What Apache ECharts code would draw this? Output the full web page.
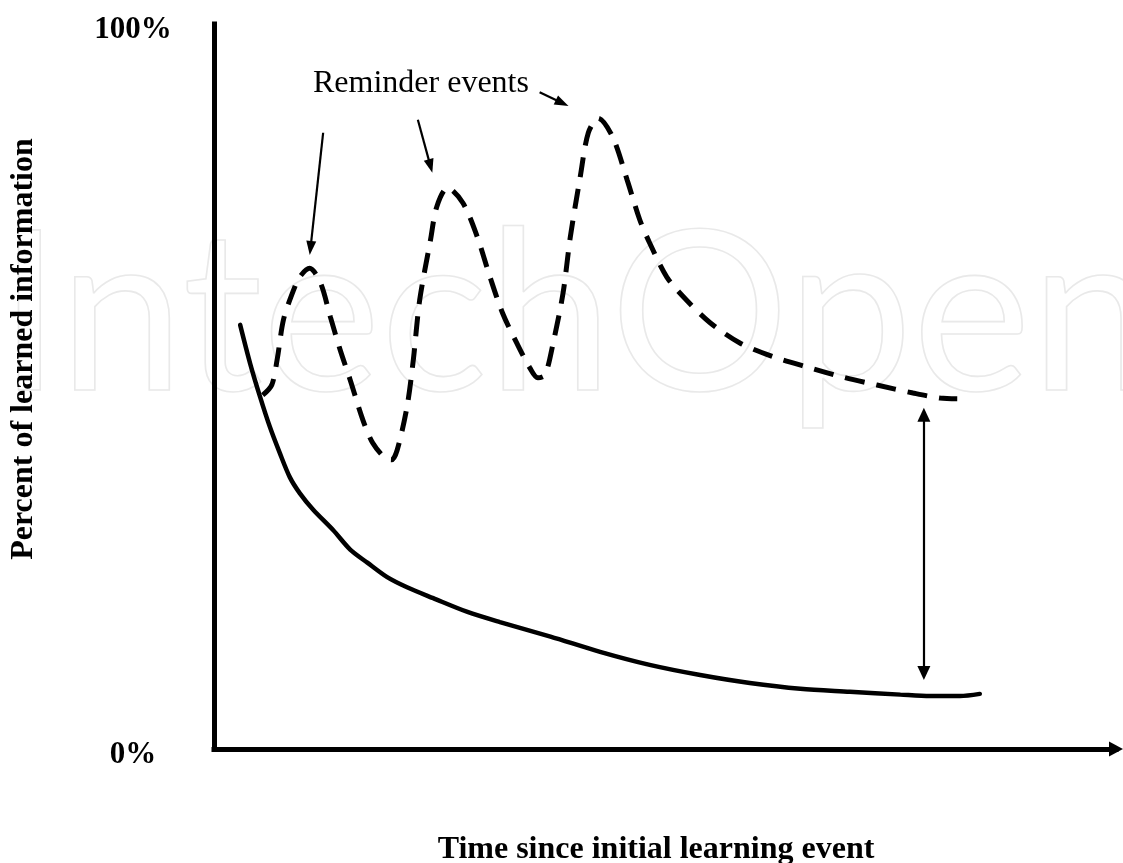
<!DOCTYPE html>
<html>
<head>
<meta charset="utf-8">
<script src="https://cdn.jsdelivr.net/npm/echarts@6/dist/echarts.min.js"></script>
<style>
html,body{margin:0;padding:0;background:#fff;}
#chart{width:1123px;height:863px;}
</style>
</head>
<body>
<div id="chart"></div>
<script>
// Forgetting curve without reminders (solid)
const forgetX = [2.9, 4.0, 5.1, 6.2, 7.3, 8.4, 9.5, 11.0, 13.2, 15.1, 17.0, 19.2, 21.4, 24.3, 28.1, 31.7, 37.3, 42.8, 48.3, 53.9, 59.4, 65.0, 70.5, 76.1, 79.4, 82.7, 84.9];
const forgetY = [58.5, 53.2, 48.6, 44.4, 40.8, 37.5, 35.3, 33.0, 30.2, 27.5, 25.7, 23.7, 22.3, 20.8, 18.9, 17.5, 15.5, 13.4, 11.6, 10.2, 9.1, 8.3, 7.9, 7.5, 7.3, 7.3, 7.6];
// Retention with reminder events (dashed)
const reminderX = [5.4, 6.4, 7.0, 7.7, 8.7, 9.5, 10.6, 11.8, 12.9, 14.0, 15.1, 16.5, 17.6, 19.0, 19.7, 20.3, 21.4, 22.1, 22.8, 24.0, 24.7, 25.9, 27.6, 29.2, 30.6, 32.0, 33.6, 35.0, 35.9, 36.7, 37.6, 38.7, 39.5, 40.6, 41.5, 42.6, 44.2, 45.8, 47.2, 48.3, 50.2, 52.4, 55.0, 58.3, 62.0, 65.7, 69.7, 73.5, 77.5, 80.5, 82.4];
const reminderY = [48.8, 50.2, 53.7, 59.2, 62.9, 65.1, 66.3, 64.3, 59.6, 55.0, 50.9, 45.4, 42.2, 40.1, 39.9, 41.2, 47.2, 53.7, 61.9, 70.2, 74.8, 77.4, 75.3, 70.6, 65.1, 60.1, 55.9, 52.6, 51.2, 51.6, 56.0, 62.9, 70.6, 78.9, 85.0, 87.0, 84.4, 78.5, 73.0, 69.8, 65.1, 61.9, 58.8, 56.0, 54.1, 52.7, 51.3, 50.2, 49.1, 48.4, 48.3];
// Annotation arrows ("Reminder events") in data coordinates
const arrowFrom = [[12.1, 85.0], [22.6, 86.8], [36.1, 90.6]];
const arrowTo = [[10.7, 69.1], [24.0, 80.4], [38.6, 89.1]];
// Gap double arrow
const gapX = 78.7;
const gapTop = 46.1;
const gapBottom = 10.5;
// Axis ticks and texts
const yTicks = [0, 100];
const yTitle = 'Percent of learned information';
const xTitle = 'Time since initial learning event';
const noteText = 'Reminder events';

const zip = (xs, ys) => xs.map((x, i) => [x, ys[i]]);
const serif = '"Liberation Serif", "Times New Roman", serif';

const arrowLines = arrowFrom.map((p, i) => [
  { coord: p, symbol: 'none' },
  { coord: arrowTo[i], symbol: 'triangle', symbolSize: [10, 14] }
]);
arrowLines.push([
  { coord: [gapX, gapTop], symbol: 'triangle', symbolSize: [13, 14] },
  { coord: [gapX, gapBottom], symbol: 'triangle', symbolSize: [13, 14] }
]);

const chart = echarts.init(document.getElementById('chart'), null, { renderer: 'canvas' });
chart.setOption({
  animation: false,
  backgroundColor: '#ffffff',
  grid: { left: 214, right: 7, top: 24, bottom: 114, containLabel: false },
  xAxis: {
    type: 'value', min: 0, max: 100,
    axisLine: { show: true, symbol: ['none', 'triangle'], symbolSize: [15, 14],
      lineStyle: { color: '#000', width: 5, cap: 'square' } },
    axisTick: { show: false }, axisLabel: { show: false }, splitLine: { show: false }
  },
  yAxis: {
    type: 'value', min: yTicks[0], max: yTicks[1], interval: 100,
    axisLine: { show: true, lineStyle: { color: '#000', width: 5, cap: 'square' } },
    axisTick: { show: false }, splitLine: { show: false },
    axisLabel: { show: true, formatter: '{value}%', color: '#000', fontFamily: serif,
      fontWeight: 'bold', fontSize: 31, margin: 81, align: 'center',
      verticalAlign: 'top', lineHeight: 12 }
  },
  graphic: [
    { type: 'text', z: -10, silent: true, x: -2, y: 318,
      style: { text: 'IntechOpen', font: '224px Lato, "Noto Sans", sans-serif', fill: 'rgba(255,255,255,0)',
        stroke: '#e9e9e9', lineWidth: 1.6, verticalAlign: 'middle', align: 'left' } },
    { type: 'text', silent: true, x: 24, y: 349, rotation: Math.PI / 2,
      style: { text: yTitle, font: 'bold 32px ' + serif, fill: '#000', align: 'center', verticalAlign: 'middle' } },
    { type: 'text', silent: true, x: 656, y: 850,
      style: { text: xTitle, font: 'bold 32px ' + serif, fill: '#000', align: 'center', verticalAlign: 'middle' } },
    { type: 'text', silent: true, x: 313, y: 84,
      style: { text: noteText, font: '32px ' + serif, fill: '#000', align: 'left', verticalAlign: 'middle' } }
  ],
  series: [
    {
      type: 'line', name: 'Without reminders', data: zip(forgetX, forgetY),
      smooth: 0.3, showSymbol: false, silent: true,
      lineStyle: { color: '#000', width: 4.5, cap: 'round' },
      markLine: {
        silent: true, animation: false,
        lineStyle: { color: '#000', width: 2.2, type: 'solid' },
        label: { show: false },
        emphasis: { disabled: true },
        data: arrowLines
      }
    },
    {
      type: 'line', name: 'With reminders', data: zip(reminderX, reminderY),
      smooth: 0.3, showSymbol: false, silent: true,
      lineStyle: { color: '#000', width: 5, type: [20, 12] }
    }
  ]
});
</script>
</body>
</html>
